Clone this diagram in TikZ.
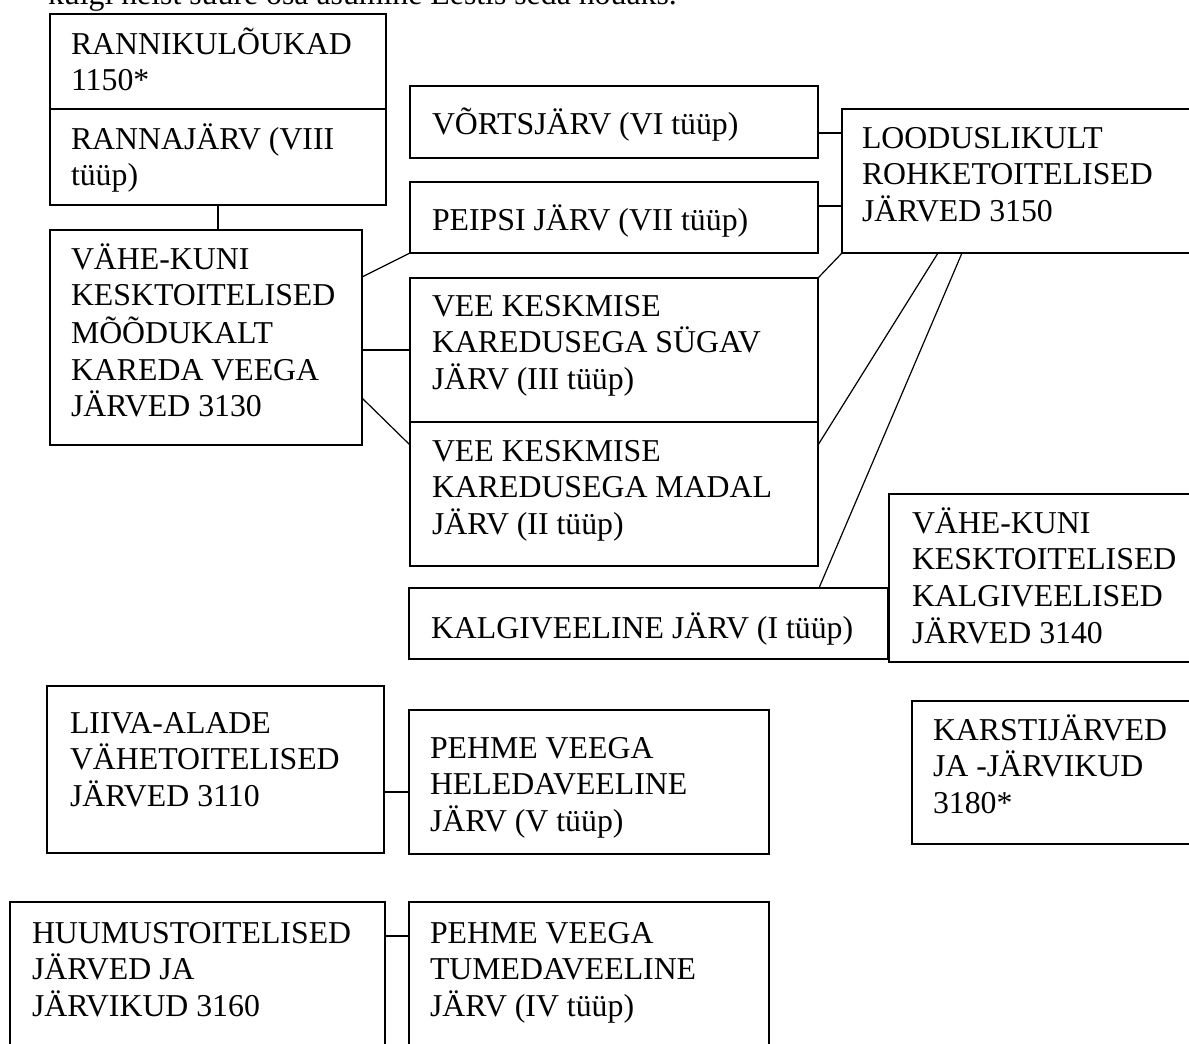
\documentclass[tikz,border=0pt]{standalone}
\usepackage{fontspec}
\setmainfont{Liberation Serif}
\usetikzlibrary{calc}
\newcommand\mlines[1]{\begin{tabular}[t]{@{}l@{}}#1\end{tabular}}
\tikzset{
  box/.style={draw=black, line width=1.2pt, inner sep=0pt, outer sep=0pt, anchor=north west, fill=none},
  txt/.style={inner sep=0pt, outer sep=0pt, anchor=base west, font=\fontsize{31.8}{36.7}\selectfont},
  conn/.style={draw=black, line width=1.2pt}
}
\newcommand\boxat[5]{\node[box, minimum width=#4pt-#2pt, minimum height=#5pt-#3pt] (#1) at (#2,#3) {};}
\begin{document}
\begin{tikzpicture}[x=1pt,y=-1pt]
\useasboundingbox (0,0) rectangle (1189,1044);
\clip (0,0) rectangle (1189,1044);
\fill[white] (0,0) rectangle (1189,1044);
% partially visible line of text above
\node[txt] (top) at (48,5) {kuigi neist suure osa asumine Eestis seda nõuaks.};
% boxes
\boxat{A}{50}{14}{386}{109}
\boxat{B}{50}{109}{386}{205}
\boxat{C}{50}{230}{362}{445}
\boxat{D}{410}{86}{818}{158}
\boxat{E}{410}{182}{818}{253}
\boxat{F}{410}{278}{818}{422}
\boxat{G}{410}{422}{818}{566}
\boxat{H}{409}{588}{888}{659}
\boxat{I}{842}{109}{1210}{253}
\boxat{J}{889}{494}{1210}{662}
\boxat{K}{912}{701}{1210}{844}
\boxat{L}{47}{686}{384}{853}
\boxat{M}{409}{710}{769}{854}
\boxat{N}{10}{902}{385}{1060}
\boxat{O}{409}{902}{769}{1060}
% texts
\node[txt] (At) at (71,54) {\mlines{RANNIKULÕUKAD\\1150*}};
\node[txt] (Bt) at (71,149) {\mlines{RANNAJÄRV (VIII\\tüüp)}};
\node[txt] (Ct) at (71,269) {\mlines{VÄHE-KUNI\\KESKTOITELISED\\MÕÕDUKALT\\KAREDA VEEGA\\JÄRVED 3130}};
\node[txt] (Dt) at (432,134) {VÕRTSJÄRV (VI tüüp)};
\node[txt] (Et) at (432,230) {PEIPSI JÄRV (VII tüüp)};
\node[txt] (Ft) at (432,316) {\mlines{VEE KESKMISE\\KAREDUSEGA SÜGAV\\JÄRV (III tüüp)}};
\node[txt] (Gt) at (432,461) {\mlines{VEE KESKMISE\\KAREDUSEGA MADAL\\JÄRV (II tüüp)}};
\node[txt] (Ht) at (431,638) {KALGIVEELINE JÄRV (I tüüp)};
\node[txt] (It) at (862,148) {\mlines{LOODUSLIKULT\\ROHKETOITELISED\\JÄRVED 3150}};
\node[txt] (Jt) at (912,533) {\mlines{VÄHE-KUNI\\KESKTOITELISED\\KALGIVEELISED\\JÄRVED 3140}};
\node[txt] (Kt) at (933,740) {\mlines{KARSTIJÄRVED\\JA -JÄRVIKUD\\3180*}};
\node[txt] (Lt) at (70,733) {\mlines{LIIVA-ALADE\\VÄHETOITELISED\\JÄRVED 3110}};
\node[txt] (Mt) at (430,758) {\mlines{PEHME VEEGA\\HELEDAVEELINE\\JÄRV (V tüüp)}};
\node[txt] (Nt) at (32,943) {\mlines{HUUMUSTOITELISED\\JÄRVED JA\\JÄRVIKUD 3160}};
\node[txt] (Ot) at (430,943) {\mlines{PEHME VEEGA\\TUMEDAVEELINE\\JÄRV (IV tüüp)}};
% connectors
\draw[conn] ($(B.south west)+(168,0)$) -- ($(C.north west)+(168,0)$);
\draw[conn] ($(D.north east)+(0,47)$) -- ($(I.north west)+(0,24)$);
\draw[conn] ($(E.north east)+(0,24)$) -- ($(I.north west)+(0,97)$);
\draw[conn] (I.south west) -- (F.north east);
\draw[conn] ($(I.south west)+(96,0)$) -- ($(G.north east)+(0,23)$);
\draw[conn] ($(I.south west)+(120,0)$) -- ($(H.north west)+(410,0)$);
\draw[conn] ($(C.north east)+(0,47)$) -- (E.south west);
\draw[conn] ($(C.north east)+(0,120)$) -- (F.west);
\draw[conn] ($(C.north east)+(0,168)$) -- ($(G.north west)+(0,23)$);
\draw[conn] ($(L.north east)+(0,106)$) -- ($(M.north west)+(0,82)$);
\draw[conn] ($(N.north east)+(0,34)$) -- ($(O.north west)+(0,34)$);
\end{tikzpicture}
\end{document}
